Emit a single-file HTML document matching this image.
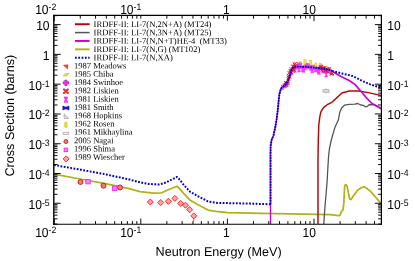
<!DOCTYPE html>
<html><head><meta charset="utf-8"><title>Li-7 cross sections</title>
<style>html,body{margin:0;padding:0;background:#fff;}body{width:415px;height:261px;overflow:hidden;font-family:"Liberation Sans",sans-serif;}</style>
</head><body>
<svg width="415" height="261" viewBox="0 0 415 261" style="display:block;will-change:transform;filter:opacity(0.9999);text-rendering:geometricPrecision">
<rect width="415" height="261" fill="#fff"/>
<polyline points="54.0,174.2 80.0,179.0 104.0,183.3 128.0,188.3 140.0,191.6 153.0,193.1 161.7,192.8 168.9,189.5 176.9,186.2 178.2,187.2 183.4,193.1 189.9,199.9 197.1,204.2 208.1,210.1 216.0,211.4 227.7,212.6 250.0,213.2 290.0,213.8 330.0,214.6 338.6,215.6 340.0,215.2 341.5,211.4 343.0,209.9 343.8,203.7 344.6,186.5 345.3,184.6 346.9,185.5 348.2,192.2 349.7,199.0 351.0,199.5 354.0,195.1 357.8,190.0 361.6,187.5 364.5,186.9 367.4,188.8 371.2,192.2 375.0,196.5 377.9,199.9 381.0,203.4" fill="none" stroke="#b2b216" stroke-width="1.75" stroke-linejoin="round" />
<polyline points="323.8,224.1 324.7,210.0 326.0,195.0 327.2,180.0 327.6,172.0 328.6,156.0 329.5,148.5 330.6,143.0 332.3,136.2 334.9,127.6 338.4,119.8 339.8,112.1 341.8,107.8 344.5,105.2 349.2,104.4 354.9,104.1 357.8,103.5 360.7,105.0 363.5,105.4 365.4,106.8 367.4,106.4 369.3,104.5 374.0,104.9 377.9,106.4 381.0,108.9" fill="none" stroke="#555555" stroke-width="1.3" stroke-linejoin="round" />
<polyline points="318.0,224.1 318.0,160.0 318.3,140.0 318.8,125.0 319.8,116.8 320.9,111.8 322.0,110.0 323.8,107.4 327.2,104.7 331.3,102.7 335.9,98.6 341.9,93.0 349.2,91.0 358.7,91.0 368.3,92.6 381.0,95.4" fill="none" stroke="#b40808" stroke-width="1.45" stroke-linejoin="round" />
<polyline points="270.5,224.1 270.5,204.0 270.5,155.0 270.6,146.0 271.6,140.0 273.5,135.4 275.2,127.5 276.5,120.0 277.2,115.0 278.3,105.0 278.7,100.0 279.5,93.7 281.0,88.4 284.9,85.3 288.0,80.7 290.3,74.6 291.6,69.6 293.6,67.2 296.0,66.5 305.7,66.8 320.0,68.1 327.0,69.4 332.0,70.9" fill="none" stroke="#cc00cc" stroke-width="1.35" stroke-linejoin="round" />
<polyline points="332.0,70.9 333.8,72.3 341.5,76.7 349.2,80.5 354.9,84.4 360.7,91.0 366.4,97.8 372.1,103.5 381.0,108.6" fill="none" stroke="#cc00cc" stroke-width="1.7" stroke-linejoin="round" />
<rect x="299.10" y="61.8" width="2.2" height="6.5" fill="#ecec3a" stroke="#c6c620" stroke-width="0.5"/>
<rect x="303.90" y="59.8" width="2.2" height="6.5" fill="#ecec3a" stroke="#c6c620" stroke-width="0.5"/>
<rect x="309.60" y="60.2" width="2.2" height="6.5" fill="#ecec3a" stroke="#c6c620" stroke-width="0.5"/>
<rect x="314.80" y="63.0" width="2.2" height="6.5" fill="#ecec3a" stroke="#c6c620" stroke-width="0.5"/>
<rect x="319.40" y="63.4" width="2.2" height="6.5" fill="#ecec3a" stroke="#c6c620" stroke-width="0.5"/>
<rect x="325.00" y="66.4" width="2.2" height="6.5" fill="#ecec3a" stroke="#c6c620" stroke-width="0.5"/>
<path d="M281.1,85.2h2.6l-0.85,2.2l0.85,2.2h-2.6l0.85,-2.2z" fill="#ff48ff" fill-opacity="0.85" stroke="#f010f0" stroke-width="0.5"/>
<path d="M282.9,83.5h2.6l-0.85,2.2l0.85,2.2h-2.6l0.85,-2.2z" fill="#ff48ff" fill-opacity="0.85" stroke="#f010f0" stroke-width="0.5"/>
<path d="M284.3,83.0h2.6l-0.85,2.2l0.85,2.2h-2.6l0.85,-2.2z" fill="#ff48ff" fill-opacity="0.85" stroke="#f010f0" stroke-width="0.5"/>
<path d="M285.5,81.8h2.6l-0.85,2.2l0.85,2.2h-2.6l0.85,-2.2z" fill="#ff48ff" fill-opacity="0.85" stroke="#f010f0" stroke-width="0.5"/>
<path d="M287.0,78.9h2.6l-0.85,2.2l0.85,2.2h-2.6l0.85,-2.2z" fill="#ff48ff" fill-opacity="0.85" stroke="#f010f0" stroke-width="0.5"/>
<path d="M288.6,73.3h2.6l-0.85,2.2l0.85,2.2h-2.6l0.85,-2.2z" fill="#ff48ff" fill-opacity="0.85" stroke="#f010f0" stroke-width="0.5"/>
<path d="M290.4,70.0h2.6l-0.85,2.2l0.85,2.2h-2.6l0.85,-2.2z" fill="#ff48ff" fill-opacity="0.85" stroke="#f010f0" stroke-width="0.5"/>
<path d="M291.7,65.1h2.6l-0.85,2.2l0.85,2.2h-2.6l0.85,-2.2z" fill="#ff48ff" fill-opacity="0.85" stroke="#f010f0" stroke-width="0.5"/>
<path d="M293.7,67.9h2.6l-0.85,2.2l0.85,2.2h-2.6l0.85,-2.2z" fill="#ff48ff" fill-opacity="0.85" stroke="#f010f0" stroke-width="0.5"/>
<path d="M295.2,64.7h2.6l-0.85,2.2l0.85,2.2h-2.6l0.85,-2.2z" fill="#ff48ff" fill-opacity="0.85" stroke="#f010f0" stroke-width="0.5"/>
<path d="M297.1,62.8h2.6l-0.85,2.2l0.85,2.2h-2.6l0.85,-2.2z" fill="#ff48ff" fill-opacity="0.85" stroke="#f010f0" stroke-width="0.5"/>
<path d="M298.5,64.2h2.6l-0.85,2.2l0.85,2.2h-2.6l0.85,-2.2z" fill="#ff48ff" fill-opacity="0.85" stroke="#f010f0" stroke-width="0.5"/>
<path d="M299.5,63.3h2.6l-0.85,2.2l0.85,2.2h-2.6l0.85,-2.2z" fill="#ff48ff" fill-opacity="0.85" stroke="#f010f0" stroke-width="0.5"/>
<path d="M301.2,67.1h2.6l-0.85,2.2l0.85,2.2h-2.6l0.85,-2.2z" fill="#ff48ff" fill-opacity="0.85" stroke="#f010f0" stroke-width="0.5"/>
<path d="M302.6,65.9h2.6l-0.85,2.2l0.85,2.2h-2.6l0.85,-2.2z" fill="#ff48ff" fill-opacity="0.85" stroke="#f010f0" stroke-width="0.5"/>
<path d="M304.6,64.8h2.6l-0.85,2.2l0.85,2.2h-2.6l0.85,-2.2z" fill="#ff48ff" fill-opacity="0.85" stroke="#f010f0" stroke-width="0.5"/>
<path d="M306.0,63.3h2.6l-0.85,2.2l0.85,2.2h-2.6l0.85,-2.2z" fill="#ff48ff" fill-opacity="0.85" stroke="#f010f0" stroke-width="0.5"/>
<path d="M307.2,64.2h2.6l-0.85,2.2l0.85,2.2h-2.6l0.85,-2.2z" fill="#ff48ff" fill-opacity="0.85" stroke="#f010f0" stroke-width="0.5"/>
<path d="M309.2,65.5h2.6l-0.85,2.2l0.85,2.2h-2.6l0.85,-2.2z" fill="#ff48ff" fill-opacity="0.85" stroke="#f010f0" stroke-width="0.5"/>
<path d="M310.5,66.5h2.6l-0.85,2.2l0.85,2.2h-2.6l0.85,-2.2z" fill="#ff48ff" fill-opacity="0.85" stroke="#f010f0" stroke-width="0.5"/>
<path d="M312.2,65.1h2.6l-0.85,2.2l0.85,2.2h-2.6l0.85,-2.2z" fill="#ff48ff" fill-opacity="0.85" stroke="#f010f0" stroke-width="0.5"/>
<path d="M314.0,67.4h2.6l-0.85,2.2l0.85,2.2h-2.6l0.85,-2.2z" fill="#ff48ff" fill-opacity="0.85" stroke="#f010f0" stroke-width="0.5"/>
<path d="M315.1,66.9h2.6l-0.85,2.2l0.85,2.2h-2.6l0.85,-2.2z" fill="#ff48ff" fill-opacity="0.85" stroke="#f010f0" stroke-width="0.5"/>
<path d="M316.9,68.7h2.6l-0.85,2.2l0.85,2.2h-2.6l0.85,-2.2z" fill="#ff48ff" fill-opacity="0.85" stroke="#f010f0" stroke-width="0.5"/>
<path d="M318.6,65.6h2.6l-0.85,2.2l0.85,2.2h-2.6l0.85,-2.2z" fill="#ff48ff" fill-opacity="0.85" stroke="#f010f0" stroke-width="0.5"/>
<path d="M320.3,65.0h2.6l-0.85,2.2l0.85,2.2h-2.6l0.85,-2.2z" fill="#ff48ff" fill-opacity="0.85" stroke="#f010f0" stroke-width="0.5"/>
<path d="M321.4,68.7h2.6l-0.85,2.2l0.85,2.2h-2.6l0.85,-2.2z" fill="#ff48ff" fill-opacity="0.85" stroke="#f010f0" stroke-width="0.5"/>
<path d="M322.8,67.5h2.6l-0.85,2.2l0.85,2.2h-2.6l0.85,-2.2z" fill="#ff48ff" fill-opacity="0.85" stroke="#f010f0" stroke-width="0.5"/>
<path d="M324.2,68.7h2.6l-0.85,2.2l0.85,2.2h-2.6l0.85,-2.2z" fill="#ff48ff" fill-opacity="0.85" stroke="#f010f0" stroke-width="0.5"/>
<path d="M326.4,68.7h2.6l-0.85,2.2l0.85,2.2h-2.6l0.85,-2.2z" fill="#ff48ff" fill-opacity="0.85" stroke="#f010f0" stroke-width="0.5"/>
<path d="M328.0,67.8h2.6l-0.85,2.2l0.85,2.2h-2.6l0.85,-2.2z" fill="#ff48ff" fill-opacity="0.85" stroke="#f010f0" stroke-width="0.5"/>
<path d="M329.4,69.7h2.6l-0.85,2.2l0.85,2.2h-2.6l0.85,-2.2z" fill="#ff48ff" fill-opacity="0.85" stroke="#f010f0" stroke-width="0.5"/>
<path d="M310.9,67.8h2.8l-0.91,2.5l0.91,2.5h-2.8l0.91,-2.5z" fill="#ff48ff" fill-opacity="1" stroke="#f010f0" stroke-width="0.5"/>
<path d="M317.5,69.3h2.8l-0.91,2.5l0.91,2.5h-2.8l0.91,-2.5z" fill="#ff48ff" fill-opacity="1" stroke="#f010f0" stroke-width="0.5"/>
<path d="M324.7,71.9h2.8l-0.91,2.5l0.91,2.5h-2.8l0.91,-2.5z" fill="#ff48ff" fill-opacity="1" stroke="#f010f0" stroke-width="0.5"/>
<path d="M297.6,67.0h2.8l-0.91,2.5l0.91,2.5h-2.8l0.91,-2.5z" fill="#ff48ff" fill-opacity="1" stroke="#f010f0" stroke-width="0.5"/>
<path d="M302.1,67.3h2.8l-0.91,2.5l0.91,2.5h-2.8l0.91,-2.5z" fill="#ff48ff" fill-opacity="1" stroke="#f010f0" stroke-width="0.5"/>
<path d="M283.9,81.1L287.3,84.5M287.3,81.1L283.9,84.5" stroke="#e41818" stroke-width="0.95" fill="none"/>
<path d="M284.9,83.6L288.3,87.0M288.3,83.6L284.9,87.0" stroke="#e41818" stroke-width="0.95" fill="none"/>
<path d="M284.8,81.4L288.2,84.8M288.2,81.4L284.8,84.8" stroke="#e41818" stroke-width="0.95" fill="none"/>
<path d="M284.7,81.9L288.1,85.3M288.1,81.9L284.7,85.3" stroke="#e41818" stroke-width="0.95" fill="none"/>
<path d="M286.1,81.6L289.5,85.0M289.5,81.6L286.1,85.0" stroke="#e41818" stroke-width="0.95" fill="none"/>
<path d="M286.9,73.8L290.3,77.2M290.3,73.8L286.9,77.2" stroke="#e41818" stroke-width="0.95" fill="none"/>
<path d="M286.8,77.3L290.2,80.7M290.2,77.3L286.8,80.7" stroke="#e41818" stroke-width="0.95" fill="none"/>
<path d="M286.7,75.8L290.1,79.2M290.1,75.8L286.7,79.2" stroke="#e41818" stroke-width="0.95" fill="none"/>
<path d="M287.5,71.0L290.9,74.4M290.9,71.0L287.5,74.4" stroke="#e41818" stroke-width="0.95" fill="none"/>
<path d="M287.8,75.3L291.2,78.7M291.2,75.3L287.8,78.7" stroke="#e41818" stroke-width="0.95" fill="none"/>
<path d="M288.5,68.9L291.9,72.3M291.9,68.9L288.5,72.3" stroke="#e41818" stroke-width="0.95" fill="none"/>
<path d="M289.4,70.5L292.8,73.9M292.8,70.5L289.4,73.9" stroke="#e41818" stroke-width="0.95" fill="none"/>
<path d="M289.4,67.1L292.8,70.5M292.8,67.1L289.4,70.5" stroke="#e41818" stroke-width="0.95" fill="none"/>
<path d="M290.7,69.1L294.1,72.5M294.1,69.1L290.7,72.5" stroke="#e41818" stroke-width="0.95" fill="none"/>
<path d="M291.7,68.1L295.1,71.5M295.1,68.1L291.7,71.5" stroke="#e41818" stroke-width="0.95" fill="none"/>
<path d="M291.3,64.6L294.7,68.0M294.7,64.6L291.3,68.0" stroke="#e41818" stroke-width="0.95" fill="none"/>
<path d="M292.0,68.2L295.4,71.6M295.4,68.2L292.0,71.6" stroke="#e41818" stroke-width="0.95" fill="none"/>
<path d="M293.5,61.9L296.9,65.3M296.9,61.9L293.5,65.3" stroke="#e41818" stroke-width="0.95" fill="none"/>
<path d="M292.8,62.7L296.2,66.1M296.2,62.7L292.8,66.1" stroke="#e41818" stroke-width="0.95" fill="none"/>
<path d="M293.4,64.6L296.8,68.0M296.8,64.6L293.4,68.0" stroke="#e41818" stroke-width="0.95" fill="none"/>
<path d="M326.3,67.9L329.5,71.1M329.5,67.9L326.3,71.1" stroke="#e41818" stroke-width="0.9" fill="none"/>
<path d="M319.0,67.5L322.2,70.7M322.2,67.5L319.0,70.7" stroke="#e41818" stroke-width="0.9" fill="none"/>
<path d="M323.5,69.3L326.7,72.5M326.7,69.3L323.5,72.5" stroke="#e41818" stroke-width="0.9" fill="none"/>
<path d="M330.8,71.9L334.0,75.1M334.0,71.9L330.8,75.1" stroke="#e41818" stroke-width="0.9" fill="none"/>
<path d="M325.3,69.9L328.5,73.1M328.5,69.9L325.3,73.1" stroke="#e41818" stroke-width="0.9" fill="none"/>
<path d="M327.4,66.9L330.6,70.1M330.6,66.9L327.4,70.1" stroke="#e41818" stroke-width="0.9" fill="none"/>
<path d="M330.1,72.4L333.3,75.6M333.3,72.4L330.1,75.6" stroke="#e41818" stroke-width="0.9" fill="none"/>
<path d="M329.8,72.4L333.0,75.6M333.0,72.4L329.8,75.6" stroke="#e41818" stroke-width="0.9" fill="none"/>
<path d="M323.8,68.3L327.0,71.5M327.0,68.3L323.8,71.5" stroke="#e41818" stroke-width="0.9" fill="none"/>
<path d="M320.2,69.1L323.4,72.3M323.4,69.1L320.2,72.3" stroke="#e41818" stroke-width="0.9" fill="none"/>
<path d="M319.7,65.4L322.9,68.6M322.9,65.4L319.7,68.6" stroke="#e41818" stroke-width="0.9" fill="none"/>
<path d="M321.5,66.3L324.7,69.5M324.7,66.3L321.5,69.5" stroke="#e41818" stroke-width="0.9" fill="none"/>
<path d="M323.2,65.9L326.4,69.1M326.4,65.9L323.2,69.1" stroke="#e41818" stroke-width="0.9" fill="none"/>
<path d="M318.9,65.8L322.1,69.0M322.1,65.8L318.9,69.0" stroke="#e41818" stroke-width="0.9" fill="none"/>
<polyline points="54.0,165.0 80.0,169.6 104.0,174.0 128.0,179.2 140.0,182.3 148.7,184.0 158.8,184.5 164.6,183.0 170.5,180.2 176.9,176.9 178.6,178.4 183.4,184.5 189.9,191.6 197.5,196.0 208.0,201.4 217.5,202.9 250.0,203.6 262.0,204.0 270.5,204.2" fill="none" stroke="#0000cc" stroke-width="2.0" stroke-linejoin="round" stroke-dasharray="1.8 1.5" stroke-linejoin="miter"/>
<polyline points="270.5,204.2 270.5,155.0 270.6,146.0 271.6,140.0 273.5,135.4 275.2,127.5 276.5,120.0 277.2,115.0 278.3,105.0 278.7,100.0 279.5,93.7 281.0,88.4 284.9,85.3 288.0,80.7 290.3,74.6 291.6,69.6 293.6,67.2 296.0,66.5 305.7,66.8 320.0,68.1 327.0,69.4 332.0,70.9" fill="none" stroke="#0000cc" stroke-width="1.9" stroke-linejoin="round" stroke-dasharray="1.8 0.85" stroke-linejoin="miter"/>
<polyline points="332.0,70.9 341.5,73.4 353.0,76.1 362.6,81.1 370.2,84.4 381.0,87.8" fill="none" stroke="#0000cc" stroke-width="2.0" stroke-linejoin="round" stroke-dasharray="1.8 1.5" stroke-linejoin="miter"/>
<line x1="326" y1="88.5" x2="326" y2="93.5" stroke="#999" stroke-width="0.8"/>
<rect x="323" y="89.8" width="6" height="2.4" fill="#e4e4e4" stroke="#999" stroke-width="0.7"/>
<circle cx="80.5" cy="182" r="2.5" fill="#f47878" stroke="#c61a1a" stroke-width="0.9"/>
<circle cx="103.5" cy="185.7" r="2.5" fill="#f47878" stroke="#c61a1a" stroke-width="0.9"/>
<circle cx="120" cy="187.5" r="2.5" fill="#f47878" stroke="#c61a1a" stroke-width="0.9"/>
<rect x="85.8" y="179.5" width="4.4" height="4.4" fill="#ff7cff" stroke="#f020f0" stroke-width="0.8"/>
<rect x="112.5" y="186.0" width="4.4" height="4.4" fill="#ff7cff" stroke="#f020f0" stroke-width="0.8"/>
<line x1="193.8" y1="216" x2="193.8" y2="221.5" stroke="#ff2020" stroke-width="0.8"/>
<path d="M147.3,202L150.3,199.0L153.3,202L150.3,205.0Z" fill="#ffa2a2" stroke="#ff2a2a" stroke-width="1.0"/>
<path d="M157.7,202.5L160.7,199.5L163.7,202.5L160.7,205.5Z" fill="#ffa2a2" stroke="#ff2a2a" stroke-width="1.0"/>
<path d="M165.4,201.3L168.4,198.3L171.4,201.3L168.4,204.3Z" fill="#ffa2a2" stroke="#ff2a2a" stroke-width="1.0"/>
<path d="M171.9,198.4L174.9,195.4L177.9,198.4L174.9,201.4Z" fill="#ffa2a2" stroke="#ff2a2a" stroke-width="1.0"/>
<path d="M177.7,203.4L180.7,200.4L183.7,203.4L180.7,206.4Z" fill="#ffa2a2" stroke="#ff2a2a" stroke-width="1.0"/>
<path d="M182.5,205.2L185.5,202.2L188.5,205.2L185.5,208.2Z" fill="#ffa2a2" stroke="#ff2a2a" stroke-width="1.0"/>
<path d="M186.7,209.6L189.7,206.6L192.7,209.6L189.7,212.6Z" fill="#ffa2a2" stroke="#ff2a2a" stroke-width="1.0"/>
<path d="M190.8,215.9L193.8,212.9L196.8,215.9L193.8,218.9Z" fill="#ffa2a2" stroke="#ff2a2a" stroke-width="1.0"/>
<path d="M53.1,15.4H382" stroke="#000" stroke-width="1.15" fill="none"/>
<path d="M53.1,224.3H382" stroke="#000" stroke-width="1.05" fill="none"/>
<path d="M53.8,14.85V224.85" stroke="#000" stroke-width="1.4" fill="none"/>
<path d="M381.4,14.85V224.85" stroke="#000" stroke-width="1.15" fill="none"/>
<path d="M54.20,224.10v-5.5M54.20,15.64v5.5M80.27,224.10v-3M80.27,15.64v3M95.52,224.10v-3M95.52,15.64v3M106.34,224.10v-3M106.34,15.64v3M114.73,224.10v-3M114.73,15.64v3M121.59,224.10v-3M121.59,15.64v3M127.39,224.10v-3M127.39,15.64v3M132.41,224.10v-3M132.41,15.64v3M136.84,224.10v-3M136.84,15.64v3M140.80,224.10v-5.5M140.80,15.64v3M166.87,224.10v-3M166.87,15.64v3M182.12,224.10v-3M182.12,15.64v3M192.94,224.10v-3M192.94,15.64v3M201.33,224.10v-3M201.33,15.64v3M208.19,224.10v-3M208.19,15.64v3M213.99,224.10v-3M213.99,15.64v3M219.01,224.10v-3M219.01,15.64v3M223.44,224.10v-3M223.44,15.64v3M227.40,224.10v-5.5M227.40,15.64v5M253.47,224.10v-3M253.47,15.64v3M268.72,224.10v-3M268.72,15.64v3M279.54,224.10v-3M279.54,15.64v3M287.93,224.10v-3M287.93,15.64v3M294.79,224.10v-3M294.79,15.64v3M300.59,224.10v-3M300.59,15.64v3M305.61,224.10v-3M305.61,15.64v3M310.04,224.10v-3M310.04,15.64v3M314.00,224.10v-5.5M314.00,15.64v5.5M340.07,224.10v-3M340.07,15.64v3M355.32,224.10v-3M355.32,15.64v3M366.14,224.10v-3M366.14,15.64v3M374.53,224.10v-3M374.53,15.64v3M381.39,224.10v-3M381.39,15.64v3M54.20,224.10h3.3M381.39,224.10h-3.3M54.20,218.85h3.3M381.39,218.85h-3.3M54.20,215.13h3.3M381.39,215.13h-3.3M54.20,212.24h3.3M381.39,212.24h-3.3M54.20,209.89h3.3M381.39,209.89h-3.3M54.20,207.89h3.3M381.39,207.89h-3.3M54.20,206.17h3.3M381.39,206.17h-3.3M54.20,204.64h3.3M381.39,204.64h-3.3M54.20,203.28h6.5M381.39,203.28h-6.5M54.20,194.32h3.3M381.39,194.32h-3.3M54.20,189.07h3.3M381.39,189.07h-3.3M54.20,185.35h3.3M381.39,185.35h-3.3M54.20,182.46h3.3M381.39,182.46h-3.3M54.20,180.11h3.3M381.39,180.11h-3.3M54.20,178.11h3.3M381.39,178.11h-3.3M54.20,176.39h3.3M381.39,176.39h-3.3M54.20,174.86h3.3M381.39,174.86h-3.3M54.20,173.50h6.5M381.39,173.50h-6.5M54.20,164.54h3.3M381.39,164.54h-3.3M54.20,159.29h3.3M381.39,159.29h-3.3M54.20,155.57h3.3M381.39,155.57h-3.3M54.20,152.68h3.3M381.39,152.68h-3.3M54.20,150.33h3.3M381.39,150.33h-3.3M54.20,148.33h3.3M381.39,148.33h-3.3M54.20,146.61h3.3M381.39,146.61h-3.3M54.20,145.08h3.3M381.39,145.08h-3.3M54.20,143.72h6.5M381.39,143.72h-6.5M54.20,134.76h3.3M381.39,134.76h-3.3M54.20,129.51h3.3M381.39,129.51h-3.3M54.20,125.79h3.3M381.39,125.79h-3.3M54.20,122.90h3.3M381.39,122.90h-3.3M54.20,120.55h3.3M381.39,120.55h-3.3M54.20,118.55h3.3M381.39,118.55h-3.3M54.20,116.83h3.3M381.39,116.83h-3.3M54.20,115.30h3.3M381.39,115.30h-3.3M54.20,113.94h6.5M381.39,113.94h-6.5M54.20,104.98h3.3M381.39,104.98h-3.3M54.20,99.73h3.3M381.39,99.73h-3.3M54.20,96.01h3.3M381.39,96.01h-3.3M54.20,93.12h3.3M381.39,93.12h-3.3M54.20,90.77h3.3M381.39,90.77h-3.3M54.20,88.77h3.3M381.39,88.77h-3.3M54.20,87.05h3.3M381.39,87.05h-3.3M54.20,85.52h3.3M381.39,85.52h-3.3M54.20,84.16h6.5M381.39,84.16h-6.5M54.20,75.20h3.3M381.39,75.20h-3.3M54.20,69.95h3.3M381.39,69.95h-3.3M54.20,66.23h3.3M381.39,66.23h-3.3M54.20,63.34h3.3M381.39,63.34h-3.3M54.20,60.99h3.3M381.39,60.99h-3.3M54.20,58.99h3.3M381.39,58.99h-3.3M54.20,57.27h3.3M381.39,57.27h-3.3M54.20,55.74h3.3M381.39,55.74h-3.3M54.20,54.38h6.5M381.39,54.38h-6.5M54.20,45.42h3.3M381.39,45.42h-3.3M54.20,40.17h3.3M381.39,40.17h-3.3M54.20,36.45h3.3M381.39,36.45h-3.3M54.20,33.56h3.3M381.39,33.56h-3.3M54.20,31.21h3.3M381.39,31.21h-3.3M54.20,29.21h3.3M381.39,29.21h-3.3M54.20,27.49h3.3M381.39,27.49h-3.3M54.20,25.96h3.3M381.39,25.96h-3.3M54.20,24.60h6.5M381.39,24.60h-6.5M54.20,15.64h3.3M381.39,15.64h-3.3" stroke="#000" stroke-width="0.95" fill="none"/>
<text transform="translate(56.30,237.40) rotate(0.03) scale(0.93,1)" text-anchor="end" font-family="Liberation Sans, sans-serif" font-size="13.0">10<tspan font-size="9.3" dy="-4.0">-2</tspan></text>
<text transform="translate(141.30,237.40) rotate(0.03) scale(0.93,1)" text-anchor="end" font-family="Liberation Sans, sans-serif" font-size="13.0">10<tspan font-size="9.3" dy="-4.0">-1</tspan></text>
<text transform="translate(229.70,237.40) rotate(0.03) scale(0.93,1)" text-anchor="end" font-family="Liberation Sans, sans-serif" font-size="13.0">1</text>
<text transform="translate(316.00,237.40) rotate(0.03) scale(0.93,1)" text-anchor="end" font-family="Liberation Sans, sans-serif" font-size="13.0">10</text>
<text transform="translate(56.30,13.60) rotate(0.03) scale(0.93,1)" text-anchor="end" font-family="Liberation Sans, sans-serif" font-size="13.0">10<tspan font-size="9.3" dy="-4.0">-2</tspan></text>
<text transform="translate(141.30,13.60) rotate(0.03) scale(0.93,1)" text-anchor="end" font-family="Liberation Sans, sans-serif" font-size="13.0">10<tspan font-size="9.3" dy="-4.0">-1</tspan></text>
<text transform="translate(229.70,13.60) rotate(0.03) scale(0.93,1)" text-anchor="end" font-family="Liberation Sans, sans-serif" font-size="13.0">1</text>
<text transform="translate(316.00,13.60) rotate(0.03) scale(0.93,1)" text-anchor="end" font-family="Liberation Sans, sans-serif" font-size="13.0">10</text>
<text transform="translate(49.60,30.10) rotate(0.03) scale(0.93,1)" text-anchor="end" font-family="Liberation Sans, sans-serif" font-size="13.0">10</text>
<text transform="translate(387.30,30.10) rotate(0.03) scale(0.93,1)" text-anchor="start" font-family="Liberation Sans, sans-serif" font-size="13.0">10</text>
<text transform="translate(49.60,59.88) rotate(0.03) scale(0.93,1)" text-anchor="end" font-family="Liberation Sans, sans-serif" font-size="13.0">1</text>
<text transform="translate(387.30,59.88) rotate(0.03) scale(0.93,1)" text-anchor="start" font-family="Liberation Sans, sans-serif" font-size="13.0">1</text>
<text transform="translate(49.60,89.66) rotate(0.03) scale(0.93,1)" text-anchor="end" font-family="Liberation Sans, sans-serif" font-size="13.0">10<tspan font-size="9.3" dy="-3.1">-1</tspan></text>
<text transform="translate(387.30,89.66) rotate(0.03) scale(0.93,1)" text-anchor="start" font-family="Liberation Sans, sans-serif" font-size="13.0">10<tspan font-size="9.3" dy="-3.1">-1</tspan></text>
<text transform="translate(49.60,119.44) rotate(0.03) scale(0.93,1)" text-anchor="end" font-family="Liberation Sans, sans-serif" font-size="13.0">10<tspan font-size="9.3" dy="-3.1">-2</tspan></text>
<text transform="translate(387.30,119.44) rotate(0.03) scale(0.93,1)" text-anchor="start" font-family="Liberation Sans, sans-serif" font-size="13.0">10<tspan font-size="9.3" dy="-3.1">-2</tspan></text>
<text transform="translate(49.60,149.22) rotate(0.03) scale(0.93,1)" text-anchor="end" font-family="Liberation Sans, sans-serif" font-size="13.0">10<tspan font-size="9.3" dy="-3.1">-3</tspan></text>
<text transform="translate(387.30,149.22) rotate(0.03) scale(0.93,1)" text-anchor="start" font-family="Liberation Sans, sans-serif" font-size="13.0">10<tspan font-size="9.3" dy="-3.1">-3</tspan></text>
<text transform="translate(49.60,179.00) rotate(0.03) scale(0.93,1)" text-anchor="end" font-family="Liberation Sans, sans-serif" font-size="13.0">10<tspan font-size="9.3" dy="-3.1">-4</tspan></text>
<text transform="translate(387.30,179.00) rotate(0.03) scale(0.93,1)" text-anchor="start" font-family="Liberation Sans, sans-serif" font-size="13.0">10<tspan font-size="9.3" dy="-3.1">-4</tspan></text>
<text transform="translate(49.60,208.78) rotate(0.03) scale(0.93,1)" text-anchor="end" font-family="Liberation Sans, sans-serif" font-size="13.0">10<tspan font-size="9.3" dy="-3.1">-5</tspan></text>
<text transform="translate(387.30,208.78) rotate(0.03) scale(0.93,1)" text-anchor="start" font-family="Liberation Sans, sans-serif" font-size="13.0">10<tspan font-size="9.3" dy="-3.1">-5</tspan></text>
<text transform="translate(218.6,255.9) rotate(0.03)" text-anchor="middle" font-family="Liberation Sans, sans-serif" font-size="12.6">Neutron Energy (MeV)</text>
<text transform="translate(14.0,115.6) rotate(-89.97)" text-anchor="middle" font-family="Liberation Sans, sans-serif" font-size="12.6">Cross Section (barns)</text>
<line x1="75" y1="24.20" x2="89.6" y2="24.20" stroke="#b40808" stroke-width="1.9"/>
<text transform="translate(93.6,27.00) rotate(0.03)" font-family="Liberation Serif, serif" font-size="8.6" xml:space="preserve">IRDFF-II: LI-7(N,2N+A) (MT24)</text>
<line x1="75" y1="32.58" x2="89.6" y2="32.58" stroke="#555555" stroke-width="1.5"/>
<text transform="translate(93.6,35.30) rotate(0.03)" font-family="Liberation Serif, serif" font-size="8.6" xml:space="preserve">IRDFF-II: LI-7(N,3N+A) (MT25)</text>
<line x1="75" y1="40.96" x2="89.6" y2="40.96" stroke="#cc00cc" stroke-width="1.9"/>
<text transform="translate(93.6,43.59) rotate(0.03)" font-family="Liberation Serif, serif" font-size="8.6" xml:space="preserve">IRDFF-II: LI-7(N,N+T)HE-4  (MT33)</text>
<line x1="75" y1="49.34" x2="89.6" y2="49.34" stroke="#b2b216" stroke-width="1.9"/>
<text transform="translate(93.6,51.88) rotate(0.03)" font-family="Liberation Serif, serif" font-size="8.6" xml:space="preserve">IRDFF-II: LI-7(N,G) (MT102)</text>
<line x1="75" y1="57.72" x2="89.6" y2="57.72" stroke="#0000cc" stroke-width="2.0" stroke-dasharray="1.8 1.5"/>
<text transform="translate(93.6,60.18) rotate(0.03)" font-family="Liberation Serif, serif" font-size="8.6" xml:space="preserve">IRDFF-II: LI-7(N,XA)</text>
<text transform="translate(74.0,68.47) rotate(0.03)" font-family="Liberation Serif, serif" font-size="8.52">1987 Meadows</text>
<path d="M63.50000000000001,65.2L67.9,64.80000000000001L67.7,68.9Z" fill="#ff3a3a" stroke="#f01010" stroke-width="0.5"/>
<text transform="translate(74.0,76.77) rotate(0.03)" font-family="Liberation Serif, serif" font-size="8.52">1985 Chiba</text>
<path d="M63.2,75.98L65.60000000000001,73.48L69.10000000000001,73.28L66.7,75.98Z" fill="#e8e82c" stroke="#b4b414" stroke-width="0.6"/>
<text transform="translate(74.0,85.06) rotate(0.03)" font-family="Liberation Serif, serif" font-size="8.52">1984 Swinhoe</text>
<path d="M64.9,80.16h2v1.7h1.7v2h-1.7v1.7h-2v-1.7h-1.7v-2h1.7z" fill="#e63ae6" stroke="#cc10cc" stroke-width="0.9" stroke-linejoin="round"/>
<text transform="translate(74.0,93.36) rotate(0.03)" font-family="Liberation Serif, serif" font-size="8.52">1982 Liskien</text>
<path d="M64.0,89.54L67.80000000000001,92.94000000000001M67.80000000000001,89.54L64.0,92.94000000000001" stroke="#e43030" stroke-width="2.2" stroke-linecap="round" fill="none"/><rect x="64.4" y="89.94000000000001" width="3" height="2.6" fill="#e43030"/>
<text transform="translate(74.0,101.66) rotate(0.03)" font-family="Liberation Serif, serif" font-size="8.52">1981 Liskien</text>
<path d="M64.2,97.02000000000001h3.4l-1,2.6l1,2.6h-3.4l1,-2.6z" fill="#ff40ff" stroke="#f010f0" stroke-width="0.7"/>
<text transform="translate(74.0,109.95) rotate(0.03)" font-family="Liberation Serif, serif" font-size="8.52">1981 Smith</text>
<path d="M62.900000000000006,106.00000000000001v4l2,-1h2l2,1v-4l-2,1h-2z" fill="#2020e0" stroke="#0000cc" stroke-width="0.7"/>
<text transform="translate(74.0,118.25) rotate(0.03)" font-family="Liberation Serif, serif" font-size="8.52">1968 Hopkins</text>
<path d="M64.2,113.98L64.2,118.38000000000001L68.7,118.38000000000001Z" fill="#e8e8e8" stroke="#a0a0a0" stroke-width="0.8"/>
<text transform="translate(74.0,126.54) rotate(0.03)" font-family="Liberation Serif, serif" font-size="8.52">1962 Rosen</text>
<rect x="64.7" y="122.16000000000001" width="2.4" height="5.4" rx="0.7" fill="#e8e82c" stroke="#c4c414" stroke-width="0.6"/>
<text transform="translate(74.0,134.83) rotate(0.03)" font-family="Liberation Serif, serif" font-size="8.52">1961 Mikhaylina</text>
<rect x="63.00000000000001" y="132.24" width="5.8" height="2.3" fill="#ececec" stroke="#a8a8a8" stroke-width="0.7"/>
<text transform="translate(74.0,143.13) rotate(0.03)" font-family="Liberation Serif, serif" font-size="8.52">2005 Nagai</text>
<circle cx="65.9" cy="141.52" r="2.0" fill="#f47878" stroke="#c61a1a" stroke-width="0.9"/>
<text transform="translate(74.0,151.43) rotate(0.03)" font-family="Liberation Serif, serif" font-size="8.52">1996 Shima</text>
<rect x="64.10000000000001" y="148.1" width="3.6" height="3.6" fill="#ff7cff" stroke="#f020f0" stroke-width="0.8"/>
<text transform="translate(74.0,159.72) rotate(0.03)" font-family="Liberation Serif, serif" font-size="8.52">1989 Wiescher</text>
<path d="M63.10000000000001,158.88L66.10000000000001,155.88L69.10000000000001,158.88L66.10000000000001,161.88Z" fill="#ffa2a2" stroke="#ff2a2a" stroke-width="1.0"/>
</svg>
</body></html>
